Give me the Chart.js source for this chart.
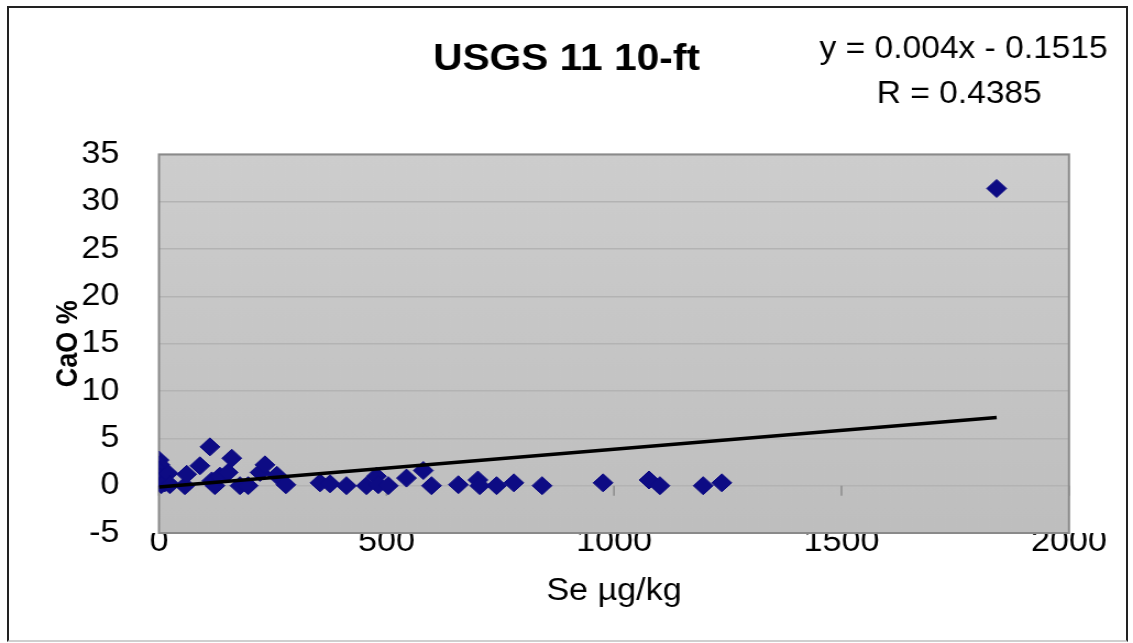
<!DOCTYPE html>
<html>
<head>
<meta charset="utf-8">
<script src="https://cdn.jsdelivr.net/npm/chart.js@4/dist/chart.umd.min.js"></script>
<style>
  body { margin: 0; background: #fff; }
  #page { position: relative; width: 1133px; height: 643px; overflow: hidden; }
  #frame { position: absolute; left: 7px; top: 6px; width: 1121px; height: 636px; box-sizing: border-box;
           border: 2px solid #222; border-bottom-color: #cfcfcf; }
  /* the chart is laid out narrower and stretched sideways */
  #wrap { position: absolute; left: 0; top: 0; width: 1030px; height: 643px;
          transform: scaleX(1.1); transform-origin: 0 0; }
</style>
</head>
<body>
<div id="page">
  <div id="wrap"><canvas id="caoChart"></canvas></div>
  <div id="frame"></div>
</div>
<script>
// Se (ug/kg) vs CaO (%) samples
const seValues = [0, 2, 0, 3, 0, 5, 13, 20, 24, 57, 61, 90, 112, 116, 123, 134, 152, 160, 178, 196,
  222, 233, 259, 279, 354, 376, 412, 456, 478, 482, 504, 544, 581, 599, 658, 701, 705, 742, 780,
  842, 976, 1077, 1101, 1196, 1237, 1841];
const caoValues = [2.7, 2.2, 1.6, 0.9, 0.4, 0.1, 0.3, 1.3, 0.1, 0, 1.2, 2.1, 4.1, 0.5, 0, 1.0, 1.4, 2.9, 0, 0,
  1.4, 2.2, 1.1, 0.1, 0.3, 0.2, 0, 0, 1.0, 0.1, 0, 0.8, 1.6, 0, 0.1, 0.6, 0, 0, 0.3,
  0, 0.3, 0.6, 0, 0, 0.3, 31.4];

// linear fit
const slope = 0.004;
const intercept = -0.1515;
const rValue = 0.4385;

const xTicks = [0, 500, 1000, 1500, 2000];
const yTicks = [-5, 0, 5, 10, 15, 20, 25, 30, 35];

const FONT = "'Liberation Sans', Arial, sans-serif";

const points = seValues.map((x, i) => ({ x: x, y: caoValues[i] }));
const maxSe = Math.max(...seValues);
const fitLine = [0, maxSe].map(x => ({ x: x, y: slope * x + intercept }));

// grey plot background, frame, and little tick marks on the zero line
const plotDecor = {
  id: "plotDecor",
  beforeDatasetsDraw(chart) {
    const { ctx, chartArea: a } = chart;
    ctx.save();
    const g = ctx.createLinearGradient(0, a.top, 0, a.bottom);
    g.addColorStop(0, "#cdcdcd");
    g.addColorStop(1, "#bebebe");
    ctx.globalCompositeOperation = "destination-over";
    ctx.fillStyle = g;
    ctx.fillRect(a.left, a.top, a.right - a.left, a.bottom - a.top);
    ctx.globalCompositeOperation = "source-over";

    const xs = chart.scales.x, ys = chart.scales.y;
    const y0 = ys.getPixelForValue(0);
    ctx.strokeStyle = "#8c8c8c";
    ctx.lineWidth = 1.5;
    ctx.beginPath();
    xTicks.forEach(v => {
      const px = xs.getPixelForValue(v);
      ctx.moveTo(px, y0);
      ctx.lineTo(px, y0 + 10);
    });
    ctx.stroke();

    ctx.strokeStyle = "#8a8a8a";
    ctx.lineWidth = 2;
    ctx.strokeRect(a.left, a.top, a.right - a.left, a.bottom - a.top);
    ctx.restore();
  },
  afterDraw(chart) {
    const ctx = chart.ctx;
    ctx.save();
    ctx.fillStyle = "#000";
    ctx.font = "30.5px " + FONT;
    ctx.textBaseline = "middle";
    ctx.textAlign = "right";
    ctx.fillText("y = " + slope + "x - " + Math.abs(intercept), 1007, 50);
    ctx.textAlign = "center";
    ctx.fillText("R = " + rValue, 872, 95);
    ctx.restore();
  }
};

new Chart(document.getElementById("caoChart"), {
  type: "scatter",
  data: {
    datasets: [{
      type: "line",
      data: fitLine,
      borderColor: "#000",
      borderWidth: 3.5,
      pointRadius: 0,
      fill: false,
      order: 0
    }, {
      data: points,
      pointStyle: "rectRot",
      pointRadius: 9,
      backgroundColor: "#0d0b84",
      borderColor: "#0d0b84",
      borderWidth: 1,
      order: 1
    }]
  },
  options: {
    responsive: true,
    maintainAspectRatio: false,
    animation: false,
    layout: { padding: { left: 10, right: 10, top: 0, bottom: 10 } },
    plugins: {
      legend: { display: false },
      tooltip: { enabled: false },
      title: {
        display: true,
        text: "USGS 11 10-ft",
        color: "#000",
        font: { family: FONT, size: 37, weight: "bold" },
        padding: { top: 38, bottom: 72 }
      }
    },
    scales: {
      x: {
        type: "linear",
        min: 0,
        max: 2000,
        grid: { display: false },
        border: { display: false },
        afterBuildTicks: s => { s.ticks = xTicks.map(v => ({ value: v })); },
        ticks: {
          color: "#000",
          padding: -17,
          font: { family: FONT, size: 31 },
          callback: v => String(v)
        },
        title: {
          display: true,
          text: "Se µg/kg",
          color: "#000",
          font: { family: FONT, size: 31 },
          padding: { top: 0, bottom: 23 }
        },
        afterFit: s => { s.height = 100; }
      },
      y: {
        min: -5,
        max: 35,
        grid: { color: "#b3b3b3", lineWidth: 1.5, drawTicks: false },
        border: { display: false },
        afterBuildTicks: s => { s.ticks = yTicks.map(v => ({ value: v })); },
        ticks: {
          color: "#000",
          padding: 36,
          font: { family: FONT, size: 31 },
          callback: v => String(v)
        },
        title: {
          display: true,
          text: "CaO %",
          color: "#000",
          font: { family: FONT, size: 27, weight: "bold" },
          padding: { top: 36, bottom: 0 }
        },
        afterFit: s => { s.width = 134.5; }
      },
      // empty right-hand strip so the plot ends short of the frame
      yRight: {
        position: "right",
        min: -5,
        max: 35,
        grid: { display: false },
        border: { display: false },
        ticks: { display: false },
        afterFit: s => { s.width = 48.2; }
      }
    }
  },
  plugins: [plotDecor]
});
</script>
</body>
</html>
